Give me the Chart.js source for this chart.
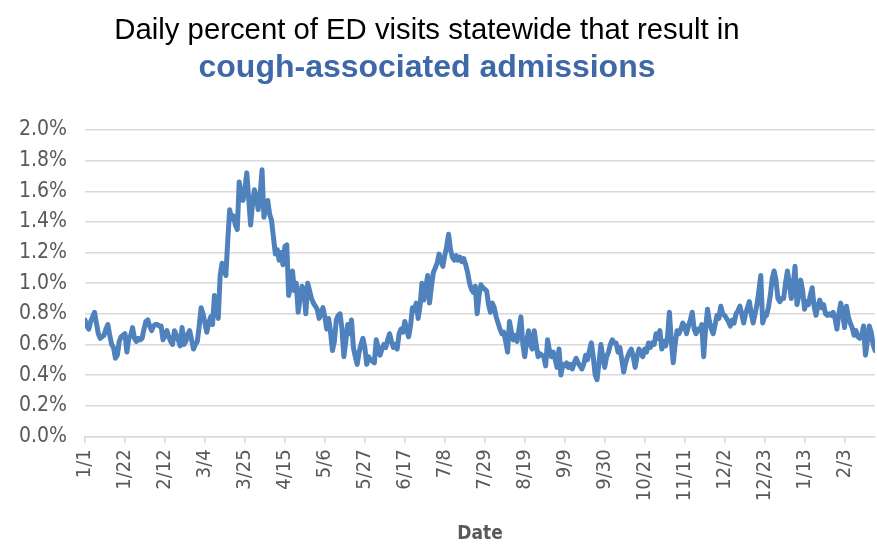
<!DOCTYPE html>
<html>
<head>
<meta charset="utf-8">
<script src="https://cdn.jsdelivr.net/npm/chart.js@4.4.0/dist/chart.umd.min.js"></script>
<style>
    html, body { margin: 0; padding: 0; background: #ffffff; }
    #wrap { position: relative; width: 877px; height: 547px; }
    #edChart { position: absolute; left: 0; top: 0; }
    .heading {
        position: absolute; left: 0; width: 854px; text-align: center;
        font-family: "Liberation Sans", Arial, sans-serif; white-space: nowrap;
    }
    #line1 { top: 12px; font-size: 29.3px; color: #000000; }
    #line2 { top: 48px; font-size: 32px; font-weight: bold; color: #3E68A8; }
</style>
</head>
<body>
<div id="wrap">
    <canvas id="edChart" width="877" height="547"></canvas>
    <div class="heading" id="line1"></div>
    <div class="heading" id="line2"></div>
</div>
<script>
    // Tick labels, one every 21 days starting 1/1
    const tickLabels = ['1/1', '1/22', '2/12', '3/4', '3/25', '4/15', '5/6', '5/27', '6/17', '7/8',
        '7/29', '8/19', '9/9', '9/30', '10/21', '11/11', '12/2', '12/23', '1/13', '2/3'];
    const tickEvery = 21;

    // Daily percent of ED visits resulting in cough-associated admissions
    const pctValues = [
        0.76, 0.72, 0.70, 0.75, 0.78, 0.81, 0.74, 0.67, 0.64, 0.65, 0.66, 0.70, 0.73, 0.66, 0.60, 0.58, 0.51, 0.53, 0.62, 0.65, 0.66,
        0.67, 0.55, 0.64, 0.66, 0.71, 0.64, 0.62, 0.64, 0.63, 0.64, 0.70, 0.75, 0.76, 0.72, 0.69, 0.72, 0.73, 0.73, 0.72, 0.72, 0.63,
        0.66, 0.69, 0.65, 0.62, 0.60, 0.69, 0.66, 0.63, 0.59, 0.71, 0.60, 0.62, 0.67, 0.69, 0.63, 0.57, 0.60, 0.62, 0.72, 0.84, 0.80,
        0.74, 0.68, 0.74, 0.78, 0.73, 0.92, 0.85, 0.77, 1.05, 1.13, 1.10, 1.05, 1.28, 1.48, 1.42, 1.44, 1.38, 1.35, 1.66, 1.58, 1.54,
        1.62, 1.72, 1.55, 1.38, 1.52, 1.61, 1.56, 1.48, 1.58, 1.74, 1.43, 1.50, 1.54, 1.45, 1.41, 1.30, 1.19, 1.22, 1.15, 1.20, 1.12,
        1.24, 1.25, 0.92, 0.98, 1.08, 0.95, 1.00, 0.81, 0.90, 0.98, 0.96, 0.80, 1.00, 0.95, 0.90, 0.87, 0.85, 0.83, 0.77, 0.80, 0.84,
        0.78, 0.70, 0.77, 0.68, 0.56, 0.62, 0.76, 0.79, 0.80, 0.70, 0.52, 0.62, 0.73, 0.67, 0.76, 0.58, 0.52, 0.47, 0.55, 0.60, 0.64,
        0.58, 0.47, 0.52, 0.50, 0.49, 0.48, 0.63, 0.58, 0.53, 0.57, 0.60, 0.58, 0.63, 0.67, 0.62, 0.58, 0.60, 0.57, 0.67, 0.70, 0.68,
        0.75, 0.70, 0.65, 0.72, 0.84, 0.82, 0.87, 0.77, 0.85, 1.00, 0.89, 0.97, 1.05, 0.87, 0.98, 1.07, 1.10, 1.13, 1.19, 1.15, 1.11,
        1.18, 1.24, 1.32, 1.22, 1.17, 1.15, 1.18, 1.15, 1.17, 1.14, 1.16, 1.12, 1.07, 1.00, 0.96, 0.94, 0.98, 0.80, 0.92, 0.99, 0.97,
        0.96, 0.95, 0.86, 0.81, 0.87, 0.84, 0.78, 0.74, 0.70, 0.67, 0.68, 0.62, 0.55, 0.75, 0.68, 0.63, 0.66, 0.62, 0.70, 0.78, 0.60,
        0.52, 0.62, 0.69, 0.60, 0.57, 0.69, 0.60, 0.52, 0.54, 0.53, 0.52, 0.46, 0.63, 0.56, 0.52, 0.55, 0.50, 0.45, 0.57, 0.40, 0.47,
        0.46, 0.48, 0.45, 0.47, 0.44, 0.48, 0.51, 0.48, 0.46, 0.44, 0.47, 0.53, 0.50, 0.56, 0.61, 0.52, 0.40, 0.37, 0.48, 0.60, 0.52,
        0.45, 0.52, 0.55, 0.60, 0.63, 0.61, 0.61, 0.55, 0.58, 0.50, 0.42, 0.48, 0.52, 0.55, 0.57, 0.52, 0.45, 0.52, 0.57, 0.55, 0.52,
        0.57, 0.55, 0.61, 0.58, 0.61, 0.60, 0.67, 0.64, 0.69, 0.57, 0.62, 0.59, 0.65, 0.81, 0.62, 0.48, 0.60, 0.69, 0.67, 0.70, 0.74,
        0.72, 0.67, 0.72, 0.76, 0.81, 0.70, 0.67, 0.70, 0.69, 0.73, 0.52, 0.70, 0.83, 0.75, 0.70, 0.67, 0.73, 0.79, 0.77, 0.85, 0.80,
        0.79, 0.77, 0.75, 0.72, 0.76, 0.74, 0.80, 0.82, 0.85, 0.80, 0.74, 0.80, 0.84, 0.88, 0.80, 0.74, 0.80, 0.86, 0.95, 1.05, 0.74,
        0.78, 0.79, 0.84, 0.92, 1.03, 1.08, 1.02, 0.90, 0.88, 0.90, 0.90, 1.00, 1.08, 1.00, 0.90, 0.98, 1.11, 0.86, 0.92, 1.02, 0.95,
        0.83, 0.88, 0.86, 0.92, 0.97, 0.85, 0.79, 0.85, 0.89, 0.84, 0.86, 0.80, 0.79, 0.80, 0.79, 0.81, 0.77, 0.70, 0.80, 0.87, 0.80,
        0.71, 0.85, 0.78, 0.74, 0.71, 0.66, 0.69, 0.65, 0.64, 0.66, 0.72, 0.53, 0.62, 0.72, 0.68, 0.60, 0.56
    ];

    const titleLine = 'Daily percent of ED visits statewide that result in';
    const subtitleLine = 'cough-associated admissions';
    const axisTitle = 'Date';

    document.getElementById('line1').textContent = titleLine;
    document.getElementById('line2').textContent = subtitleLine;

    const gridGray = '#d9d9d9';
    const textGray = '#595959';
    const condensed = '"DejaVu Sans Condensed", "Liberation Sans Narrow", sans-serif';

    const ctx = document.getElementById('edChart').getContext('2d');
    new Chart(ctx, {
        type: 'line',
        data: {
            datasets: [{
                data: pctValues.map((v, i) => ({ x: i, y: v })),
                borderColor: '#4F81BD',
                borderWidth: 5,
                borderJoinStyle: 'round',
                borderCapStyle: 'round',
                pointRadius: 0,
                tension: 0,
                fill: false
            }]
        },
        options: {
            responsive: false,
            animation: false,
            layout: { padding: { top: 130, left: 1, right: 2, bottom: 2 } },
            plugins: {
                legend: { display: false },
                tooltip: { enabled: false }
            },
            scales: {
                x: {
                    type: 'linear',
                    min: 0,
                    max: pctValues.length - 1,
                    afterBuildTicks: axis => {
                        axis.ticks = tickLabels.map((_, i) => ({ value: i * tickEvery }));
                    },
                    ticks: {
                        autoSkip: false,
                        maxRotation: 90,
                        minRotation: 90,
                        padding: 6,
                        color: textGray,
                        font: { family: condensed, size: 20 },
                        callback: (value, index) => tickLabels[index]
                    },
                    grid: { drawOnChartArea: false, color: gridGray, lineWidth: 1.5, tickLength: 7 },
                    border: { color: gridGray, width: 1.5 },
                    title: {
                        display: true,
                        text: axisTitle,
                        color: textGray,
                        font: { family: condensed, size: 19, weight: 'bold' },
                        padding: { top: 15, bottom: 0 }
                    }
                },
                y: {
                    min: 0,
                    max: 2,
                    ticks: {
                        stepSize: 0.2,
                        padding: 18,
                        color: textGray,
                        font: { family: condensed, size: 21 },
                        callback: v => v.toFixed(1) + '%'
                    },
                    grid: { color: gridGray, lineWidth: 1.5, drawTicks: false },
                    border: { display: false }
                }
            }
        }
    });
</script>
</body>
</html>
